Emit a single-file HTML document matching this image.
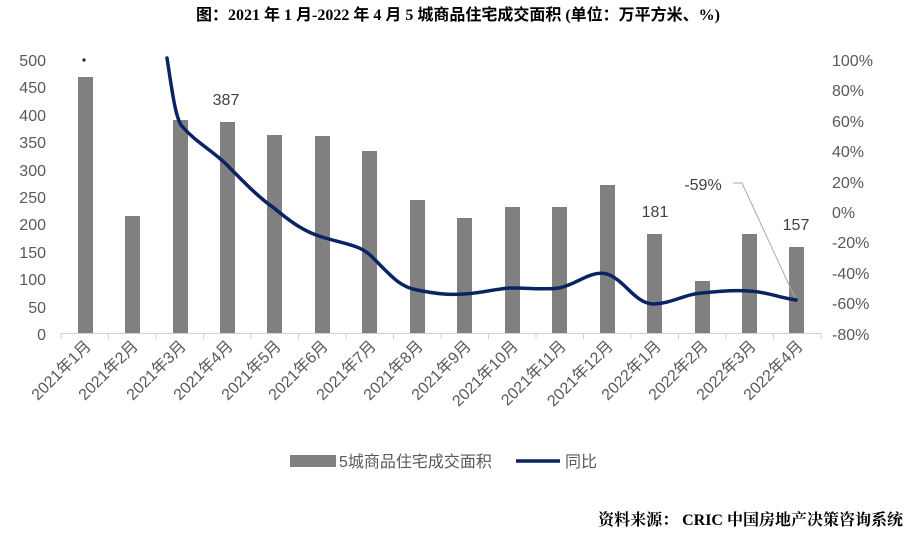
<!DOCTYPE html>
<html><head><meta charset="utf-8"><style>
body{margin:0;background:#fff;width:916px;height:538px;overflow:hidden}
svg text{font-family:"Liberation Sans","Noto Sans CJK SC",sans-serif}
</style></head><body>
<svg width="916" height="538" xmlns="http://www.w3.org/2000/svg">
<text x="458" y="20" text-anchor="middle" font-size="16" font-weight="bold" style="font-family:'Liberation Serif','Noto Sans CJK SC',serif" fill="#000">图：2021 年 1 月-2022 年 4 月 5 城商品住宅成交面积 (单位：万平方米、%)</text>
<g font-size="16" fill="#595959" text-anchor="end">
<text x="46" y="66">500</text><text x="46" y="93">450</text><text x="46" y="121">400</text><text x="46" y="148">350</text><text x="46" y="176">300</text><text x="46" y="203">250</text><text x="46" y="230">200</text><text x="46" y="258">150</text><text x="46" y="285">100</text><text x="46" y="313">50</text><text x="46" y="340">0</text>
</g>
<g font-size="16" fill="#595959" text-anchor="start">
<text x="832" y="66">100%</text><text x="832" y="96">80%</text><text x="832" y="127">60%</text><text x="832" y="157">40%</text><text x="832" y="188">20%</text><text x="832" y="218">0%</text><text x="832" y="248">-20%</text><text x="832" y="279">-40%</text><text x="832" y="309">-60%</text><text x="832" y="340">-80%</text>
</g>
<g fill="#808080">
<rect x="78" y="77" width="15" height="257"/>
<rect x="125" y="216" width="15" height="118"/>
<rect x="173" y="120" width="15" height="214"/>
<rect x="220" y="122" width="15" height="212"/>
<rect x="267" y="135" width="15" height="199"/>
<rect x="315" y="136" width="15" height="198"/>
<rect x="362" y="151" width="15" height="183"/>
<rect x="410" y="200" width="15" height="134"/>
<rect x="457" y="218" width="15" height="116"/>
<rect x="505" y="207" width="15" height="127"/>
<rect x="552" y="207" width="15" height="127"/>
<rect x="600" y="185" width="15" height="149"/>
<rect x="647" y="234" width="15" height="100"/>
<rect x="695" y="281" width="15" height="53"/>
<rect x="742" y="234" width="15" height="100"/>
<rect x="789" y="247" width="15" height="87"/>
</g>
<line x1="61" y1="333.5" x2="821" y2="333.5" stroke="#d0d0d0"/>
<g stroke="#d0d0d0">
<line x1="61" y1="333" x2="61" y2="339"/><line x1="108.5" y1="333" x2="108.5" y2="339"/><line x1="156" y1="333" x2="156" y2="339"/><line x1="203.5" y1="333" x2="203.5" y2="339"/><line x1="251" y1="333" x2="251" y2="339"/><line x1="298.5" y1="333" x2="298.5" y2="339"/><line x1="346" y1="333" x2="346" y2="339"/><line x1="393.5" y1="333" x2="393.5" y2="339"/><line x1="441" y1="333" x2="441" y2="339"/><line x1="488.5" y1="333" x2="488.5" y2="339"/><line x1="536" y1="333" x2="536" y2="339"/><line x1="583.5" y1="333" x2="583.5" y2="339"/><line x1="631" y1="333" x2="631" y2="339"/><line x1="678.5" y1="333" x2="678.5" y2="339"/><line x1="726" y1="333" x2="726" y2="339"/><line x1="773.5" y1="333" x2="773.5" y2="339"/><line x1="821" y1="333" x2="821" y2="339"/>
</g>
<g font-size="16" fill="#404040" text-anchor="middle">
<text x="226" y="105">387</text><text x="655" y="217">181</text><text x="796" y="230">157</text><text x="703" y="190">-59%</text>
</g>
<polyline points="733,183 742,183 796,300" fill="none" stroke="#aaa" stroke-width="1"/>
<circle cx="84" cy="60" r="1.6" fill="#0a2463"/>
<path d="M167,58 C172,90 175,115 181,125 C195,142 212,150 227,165 C245,183 258,197 274,208 C292,223 305,232 322,237 C345,244 358,245 369,254 C388,272 398,287 417,290 C437,294 448,295 464,294 C485,293 497,288 512,288 C530,288 545,290 559,288 C578,284 590,270 607,274 C625,280 635,304 654,304 C673,303 685,294 702,293 C720,291 735,290 749,291 C768,292 780,298 796,300" fill="none" stroke="#0a2463" stroke-width="3.5" stroke-linecap="round"/>
<g font-size="16" fill="#595959" text-anchor="end">
<text transform="translate(92,347) rotate(-45)">2021年1月</text>
<text transform="translate(139,347) rotate(-45)">2021年2月</text>
<text transform="translate(187,347) rotate(-45)">2021年3月</text>
<text transform="translate(234,347) rotate(-45)">2021年4月</text>
<text transform="translate(282,347) rotate(-45)">2021年5月</text>
<text transform="translate(329,347) rotate(-45)">2021年6月</text>
<text transform="translate(377,347) rotate(-45)">2021年7月</text>
<text transform="translate(424,347) rotate(-45)">2021年8月</text>
<text transform="translate(472,347) rotate(-45)">2021年9月</text>
<text transform="translate(519,347) rotate(-45)">2021年10月</text>
<text transform="translate(567,347) rotate(-45)">2021年11月</text>
<text transform="translate(614,347) rotate(-45)">2021年12月</text>
<text transform="translate(662,347) rotate(-45)">2022年1月</text>
<text transform="translate(709,347) rotate(-45)">2022年2月</text>
<text transform="translate(757,347) rotate(-45)">2022年3月</text>
<text transform="translate(804,347) rotate(-45)">2022年4月</text>
</g>
<rect x="290" y="455" width="46" height="12" fill="#808080"/>
<text x="339" y="467" font-size="16" fill="#595959">5城商品住宅成交面积</text>
<line x1="516" y1="461" x2="560" y2="461" stroke="#0a2463" stroke-width="3.5"/>
<text x="565" y="467" font-size="16" fill="#595959">同比</text>
<text x="903" y="525" text-anchor="end" font-size="16" font-weight="bold" style="font-family:'Liberation Serif','Noto Serif CJK SC',serif" fill="#000">资料来源：  CRIC 中国房地产决策咨询系统</text>
</svg>
</body></html>
